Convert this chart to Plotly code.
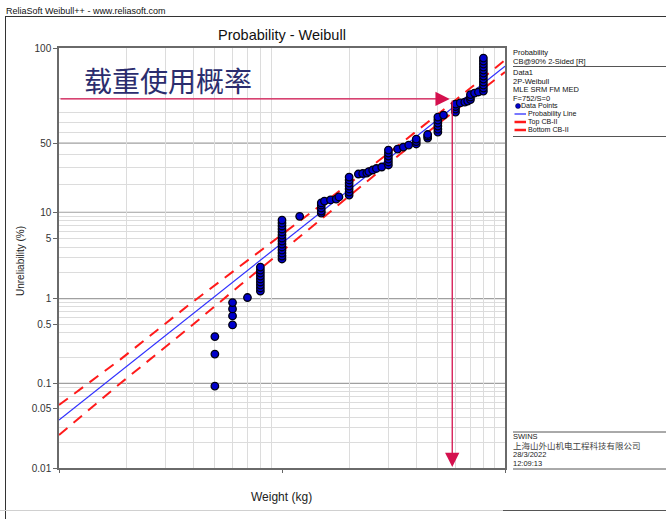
import numpy as np
import plotly.graph_objects as go

# ---------------- data ----------------
# one line per stack of failure points (weight in kg, unreliability in %)
weight_kg = [
    500, 500, 500,
    600, 600, 600, 600,
    700,
    800, 800, 800, 800, 800, 800, 800, 800, 800,
    1000, 1000, 1000, 1000, 1000, 1000, 1000, 1000, 1000, 1000, 1000, 1000, 1000, 1000,
    1200,
    1500, 1500, 1500, 1500, 1500,
    1550, 1650, 1750, 1800,
    2000, 2000, 2000, 2000, 2000, 2000, 2000,
    2200, 2300, 2400,
    2450, 2550, 2650, 2800,
    3000, 3000, 3000, 3000, 3000, 3000,
    3300, 3500, 3700,
    4000, 4000, 4000,
    4500, 4500, 4500,
    5000, 5000, 5000, 5000, 5000, 5000,
    5300,
    6000, 6000, 6000, 6000,
    6300, 6600, 6800,
    7000, 7000, 7000,
    7300, 7600,
    8000, 8000, 8000, 8000, 8000, 8000, 8000, 8000, 8000, 8000, 8000, 8000,
]
unreliability_pct = [
    0.093, 0.222, 0.357,
    0.490, 0.626, 0.757, 0.899,
    1.03,
    1.228, 1.332, 1.444, 1.566, 1.698, 1.841, 1.996, 2.164, 2.345,
    2.91, 3.15, 3.41, 3.70, 4.01, 4.34, 4.70, 5.09, 5.51, 5.97, 6.46, 6.99, 7.56, 8.17,
    9.0,
    9.80, 10.32, 11.15, 12.03, 12.7,
    13.3, 13.7, 14.0, 14.8,
    15.5, 16.7, 18.0, 19.35, 20.8, 22.4, 24.0,
    25.8, 26.1, 26.4,
    27.3, 28.3, 29.3, 30.3,
    31.7, 33.9, 36.1, 38.5, 41.0, 43.6,
    44.5, 46.3, 48.1,
    49.1, 51.4, 53.8,
    54.8, 56.8, 58.3,
    60.75, 63.7, 66.7, 69.7, 72.6, 75.5,
    77.3,
    80.0, 82.6, 84.6, 86.5,
    87.3, 87.9, 88.6,
    89.6, 91.1, 92.5,
    93.3, 93.8,
    94.24, 95.48, 96.53, 97.39, 98.08, 98.63, 99.05, 99.36, 99.585, 99.739, 99.843, 99.909,
]

# fitted probability line (end points)
prob_line_weight = [100, 10000]
prob_line_pct = [0.0369, 99.64]

# 90% two-sided confidence bounds
cb_weight = [100, 188, 387, 648, 1204, 2018, 3381, 5667, 10000]
cb_top_pct = [0.0555, 0.191, 0.864, 2.392, 8.05, 20.82, 48.9, 86.1, 99.868]
cb_bottom_pct = [0.0245, 0.0995, 0.463, 1.433, 5.29, 15.51, 40.0, 77.8, 99.17]

# usage-probability marker
usage_pct = 90
usage_weight = 5800
usage_arrow_tip_weight = 5650

# axes
y_tick_pct = [0.01, 0.05, 0.1, 0.5, 1, 5, 10, 50, 99.99]
y_tick_text = ["0.01", "0.05", "0.1", "0.5", "1", "5", "10", "50", "100"]
y_major_grid_pct = [0.1, 1, 10, 50]
y_minor_grid_pct = [0.02, 0.03, 0.04, 0.05, 0.06, 0.07, 0.08, 0.09,
                    0.2, 0.3, 0.4, 0.5, 0.6, 0.7, 0.8, 0.9,
                    2, 3, 4, 5, 6, 7, 8, 9,
                    20, 30, 40, 60, 70, 80, 90]
x_range_kg = [100, 10000]
x_tick_kg = [100, 1000, 10000]
x_minor_kg = [200, 300, 400, 500, 600, 700, 800, 900,
              2000, 3000, 4000, 5000, 6000, 7000, 8000, 9000]

legend_lines = ["Probability", "CB@90% 2-Sided [R]", "Data1", "2P-Weibull",
                "MLE SRM FM MED", "F=752/S=0"]
legend_items = ["Data Points", "Probability Line", "Top CB-II", "Bottom CB-II"]
footer_lines = ["SWINS", "上海山外山机电工程科技有限公司", "28/3/2022", "12:09:13"]


def wb(p):
    """Weibull probability scale: ln(-ln(1-F))."""
    p = np.asarray(p, dtype=float) / 100.0
    return np.log(-np.log(1.0 - p))


# ---------------- layout helpers (pixel -> paper) ----------------
W, H = 666, 519
L, R, T, B = 59, 161, 48, 51
PW, PH = W - L - R, H - T - B


def xp(px):
    return (px - L) / PW


def yp(py):
    return (H - B - py) / PH


FONT = "Liberation Sans, Arial, sans-serif"
RED = "#ff1a1a"
BLUE = "#2f2fff"
ARROW = "#d4114e"

fig = go.Figure()

fig.add_trace(go.Scatter(
    x=cb_weight, y=wb(cb_top_pct), mode="lines",
    line=dict(color=RED, width=2, dash="11px,8px"), hoverinfo="skip"))
fig.add_trace(go.Scatter(
    x=cb_weight, y=wb(cb_bottom_pct), mode="lines",
    line=dict(color=RED, width=2, dash="11px,8px"), hoverinfo="skip"))
fig.add_trace(go.Scatter(
    x=prob_line_weight, y=wb(prob_line_pct), mode="lines",
    line=dict(color=BLUE, width=1.2), hoverinfo="skip"))
fig.add_trace(go.Scatter(
    x=weight_kg, y=wb(unreliability_pct), mode="markers",
    marker=dict(size=7.5, color="#0000cc", line=dict(color="#000010", width=1.3))))

shapes = []
# darker major grid lines
for p in y_major_grid_pct:
    v = float(wb(p))
    shapes.append(dict(type="line", xref="paper", yref="y", x0=0, x1=1, y0=v, y1=v,
                       line=dict(color="#a0a0a0", width=1.2), layer="below"))
shapes.append(dict(type="line", xref="x", yref="paper", x0=3, x1=3, y0=0, y1=1,
                   line=dict(color="#a0a0a0", width=1.2), layer="below"))

# frame lines around the report
line_dark = dict(color="#333333", width=1)
shapes += [
    dict(type="line", xref="paper", yref="paper", x0=xp(5.5), x1=xp(5.5), y0=yp(16), y1=yp(519), line=line_dark),
    dict(type="line", xref="paper", yref="paper", x0=xp(5.5), x1=xp(666), y0=yp(16.5), y1=yp(16.5), line=line_dark),
    dict(type="line", xref="paper", yref="paper", x0=xp(0), x1=xp(503), y0=yp(510.5), y1=yp(510.5),
         line=dict(color="#d0d0d0", width=1)),
    dict(type="line", xref="paper", yref="paper", x0=xp(503), x1=xp(666), y0=yp(510.5), y1=yp(510.5),
         line=dict(color="#555555", width=1)),
]
for py in [66.5, 136.5, 432.0, 469.0]:
    shapes.append(dict(type="line", xref="paper", yref="paper", x0=xp(513), x1=xp(666),
                       y0=yp(py), y1=yp(py), line=dict(color="#555555", width=1)))

# legend symbols
shapes.append(dict(type="circle", xref="paper", yref="paper", x0=xp(515.5), x1=xp(520.5),
                   y0=yp(108.5), y1=yp(103.5), fillcolor="#0000cc", line=dict(color="#000022", width=0.5)))
shapes.append(dict(type="line", xref="paper", yref="paper", x0=xp(514.5), x1=xp(526),
                   y0=yp(114), y1=yp(114), line=dict(color=BLUE, width=1.3)))
for py in [122, 130]:
    shapes.append(dict(type="line", xref="paper", yref="paper", x0=xp(514.5), x1=xp(526),
                       y0=yp(py), y1=yp(py), line=dict(color=RED, width=2.5)))


def label(txt, px, py, size, family=FONT, color="#111111", anchor="left"):
    return dict(text=txt, xref="paper", yref="paper", x=xp(px), y=yp(py),
                xanchor=anchor, yanchor="middle", showarrow=False,
                borderpad=0, borderwidth=0,
                font=dict(family=family, size=size, color=color))


annotations = []
annotations.append(label("ReliaSoft Weibull++ - www.reliasoft.com", 6, 10.5, 9))
annotations.append(label("Probability - Weibull", 282, 35, 14.5, anchor="center"))
annotations.append(label("载重使用概率", 84, 80, 28, family="Noto Sans CJK SC", color="#2b2d6e"))
ytitle = label("Unreliability (%)", 20, 261, 10, color="#222222", anchor="center")
ytitle["textangle"] = -90
annotations.append(ytitle)
annotations.append(label("Weight (kg)", 281.5, 497, 12, color="#222222", anchor="center"))

# right-hand legend text
legend_y = [52.5, 61.3, 72.5, 81, 89.5, 98]
for txt, py in zip(legend_lines, legend_y):
    annotations.append(label(txt, 513, py, 7.5))
item_x = [521, 527.5, 527.5, 527.5]
item_y = [106, 114, 122, 130]
for txt, px, py in zip(legend_items, item_x, item_y):
    annotations.append(label(txt, px, py, 7.1))

# footer
footer_y = [436.7, 445.6, 454.4, 463.2]
footer_size = [7.5, 8.5, 7.5, 7.5]
footer_family = [FONT, "Liberation Sans, Noto Sans CJK SC", FONT, FONT]
footer_color = ["#222222", "#444444", "#222222", "#222222"]
for txt, py, sz, fam, col in zip(footer_lines, footer_y, footer_size, footer_family, footer_color):
    annotations.append(label(txt, 513, py, sz, family=fam, color=col))

# usage arrows
y90 = float(wb(usage_pct))
y_bottom = float(wb(y_tick_pct[0]))
annotations.append(dict(x=np.log10(usage_arrow_tip_weight), y=y90, ax=np.log10(x_range_kg[0]), ay=y90,
                        xref="x", yref="y", axref="x", ayref="y", text="", showarrow=True,
                        arrowhead=2, arrowsize=2.2, arrowwidth=1.3, arrowcolor=ARROW, standoff=0))
annotations.append(dict(x=np.log10(usage_weight), y=y_bottom, ax=np.log10(usage_weight), ay=y90,
                        xref="x", yref="y", axref="x", ayref="y", text="", showarrow=True,
                        arrowhead=2, arrowsize=2.2, arrowwidth=1.3, arrowcolor=ARROW, standoff=1))

fig.update_layout(
    width=W, height=H, autosize=False,
    margin=dict(l=L, r=R, t=T, b=B, pad=0),
    paper_bgcolor="white", plot_bgcolor="white",
    showlegend=False,
    shapes=shapes, annotations=annotations,
    font=dict(family=FONT, size=10, color="#333333"),
    xaxis=dict(type="log", range=[np.log10(x_range_kg[0]), np.log10(x_range_kg[1])],
               tickmode="array", tickvals=x_tick_kg, showticklabels=False,
               ticks="outside", ticklen=3, tickcolor="#666666",
               showgrid=False, zeroline=False,
               showline=True, linecolor="#6a6a6a", linewidth=1.5, mirror=True,
               minor=dict(tickmode="array", tickvals=x_minor_kg, showgrid=True,
                          gridcolor="#dcdcdc", gridwidth=1, ticks="")),
    yaxis=dict(range=[float(wb(y_tick_pct[0])), float(wb(y_tick_pct[-1]))],
               tickmode="array", tickvals=wb(y_tick_pct), ticktext=y_tick_text,
               ticks="outside", ticklen=4, tickcolor="#666666",
               tickfont=dict(family=FONT, size=10, color="#333333"),
               showgrid=False, zeroline=False,
               showline=True, linecolor="#6a6a6a", linewidth=1.5, mirror=True,
               minor=dict(tickmode="array", tickvals=wb(y_minor_grid_pct), showgrid=True,
                          gridcolor="#dcdcdc", gridwidth=1, ticks="")),
)

fig.write_html("out.html", config={"displayModeBar": False},
               post_script="document.body.style.margin='0';")
